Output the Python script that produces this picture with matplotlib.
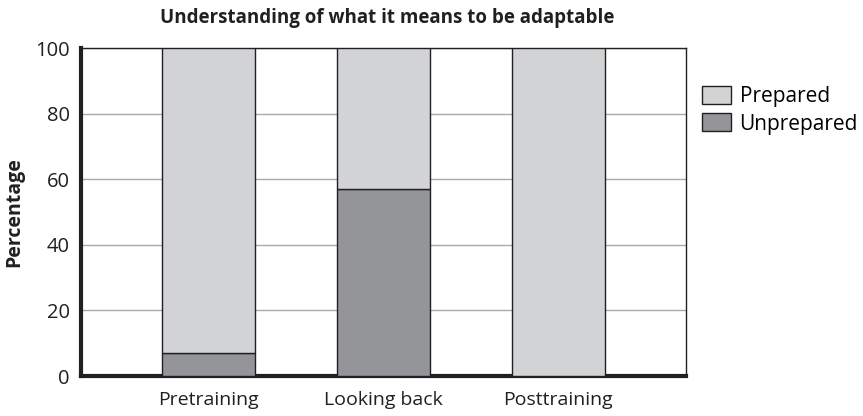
import matplotlib

matplotlib.use('Agg')
import matplotlib.pyplot as plt
import numpy as np

categories = ['Pretraining', 'Looking back', 'Posttraining']
unprepared = [7, 57, 0]
prepared = [93, 43, 100]

plt.rcParams['font.family'] = ['Open Sans', 'DejaVu Sans']

fig = plt.figure(figsize=(8.63, 4.16), dpi=100)
ax = fig.add_axes([81 / 863, 1 - 376 / 416, 605 / 863, 328 / 416])

x = np.arange(len(categories))
width = 0.53
ax.bar(x, unprepared, width, color='#939598', edgecolor='#231f20', linewidth=1.0,
       label='Unprepared', zorder=3)
ax.bar(x, prepared, width, bottom=unprepared, color='#d1d3d4', edgecolor='#231f20',
       linewidth=1.0, label='Prepared', zorder=3)

ax.set_xlim(-0.73, 2.73)
ax.set_ylim(0, 100)
ax.set_yticks(range(0, 101, 20))
ax.set_xticks(x)
ax.set_xticklabels(categories)
ax.yaxis.grid(True, color='#a7a9ac', linewidth=1.0, zorder=0)
ax.tick_params(length=0, labelsize=14.5, colors='#231f20', pad=8)
ax.tick_params(axis='x', labelsize=14, pad=11)

for side in ('left', 'bottom'):
    ax.spines[side].set_linewidth(3)
    ax.spines[side].set_color('#231f20')
for side in ('top', 'right'):
    ax.spines[side].set_linewidth(1)
    ax.spines[side].set_color('#231f20')

ax.set_ylabel('Percentage', fontsize=14, fontweight='bold', color='#231f20', labelpad=8)
fig.text(387 / 863, 1 - 18 / 416, 'Understanding of what it means to be adaptable',
         ha='center', va='center', fontsize=13.5, fontweight='bold', color='#231f20')

handles, labels = ax.get_legend_handles_labels()
fig.legend(handles[::-1], labels[::-1], loc='upper left', bbox_to_anchor=(702 / 863, 1 - 86 / 416),
           frameon=False, fontsize=15, handlelength=1.4, handleheight=0.95,
           handletextpad=0.4, labelspacing=0.3, borderaxespad=0, borderpad=0)

fig.savefig('out.png', dpi=100)
plt.close(fig)
